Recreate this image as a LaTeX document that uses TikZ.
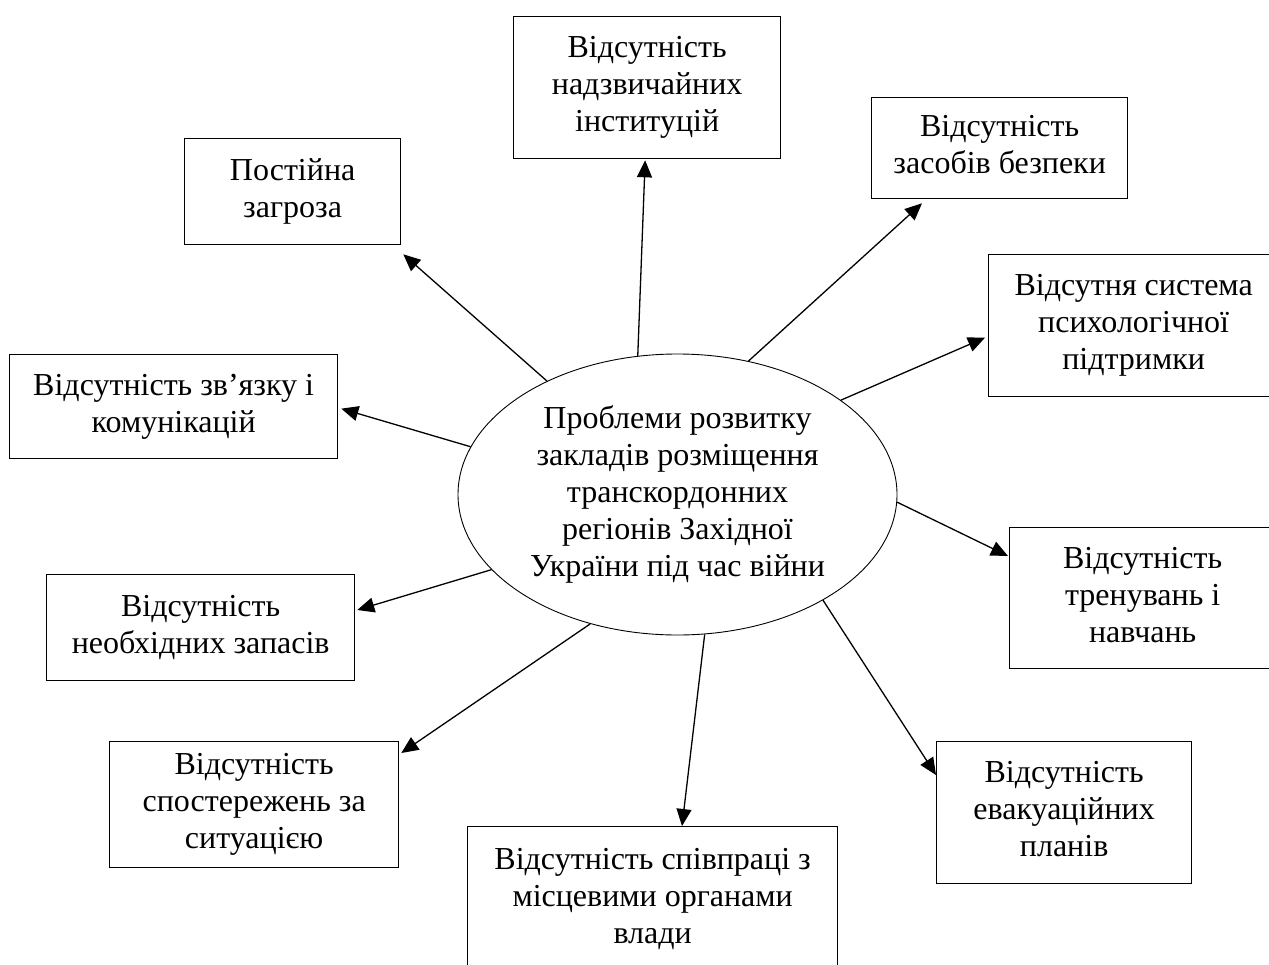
\documentclass[tikz,border=0pt]{standalone}
\usepackage{fontspec}
\setmainfont{Liberation Serif}
\usetikzlibrary{arrows.meta,shapes.geometric,calc}
\begin{document}
\begin{tikzpicture}[x=1pt,y=-1pt,
  lbl/.style={font=\fontsize{32}{37}\selectfont, align=center,
    execute at begin node={\rule{0pt}{0.891em}},
    execute at end node={\rule[-0.216em]{0pt}{0.216em}}},
  box/.style={lbl, draw, line width=1.3pt, rectangle, inner sep=0pt, anchor=north west},
  arr/.style={line width=1.3pt, -{Triangle[length=17pt,width=15pt]}},
  ]
\useasboundingbox (0,0) rectangle (1269,964);
% centre
\node[lbl, ellipse, draw, line width=0.9pt, inner sep=0pt, minimum width=439pt, minimum height=281pt] (ell) at (677.5,494.5)
  {Проблеми розвитку\\закладів розміщення\\транскордонних\\регіонів Західної\\України під час війни};
% boxes
\node[box, minimum width=267pt, minimum height=142pt] (b1) at (513,16) {Відсутність\\надзвичайних\\інституцій};
\node[box, minimum width=216pt, minimum height=106pt] (b2) at (184,138) {Постійна\\загроза};
\node[box, minimum width=256pt, minimum height=101pt] (b3) at (871,97) {Відсутність\\засобів безпеки};
\node[box, minimum width=290pt, minimum height=142pt] (b4) at (988,254) {Відсутня система\\психологічної\\підтримки};
\node[box, minimum width=328pt, minimum height=104pt] (b5) at (9,354) {Відсутність зв’язку і\\комунікацій};
\node[box, minimum width=266pt, minimum height=141pt] (b6) at (1009,527) {Відсутність\\тренувань і\\навчань};
\node[box, minimum width=308pt, minimum height=106pt] (b7) at (46,574) {Відсутність\\необхідних запасів};
\node[box, minimum width=289pt, minimum height=126pt] (b8) at (109,741) {Відсутність\\спостережень за\\ситуацією};
\node[box, minimum width=255pt, minimum height=142pt] (b9) at (936,741) {Відсутність\\евакуаційних\\планів};
\node[box, minimum width=370pt, minimum height=146pt] (b10) at (467,826) {Відсутність співпраці з\\місцевими органами\\влади};
% connectors
\draw[arr] (ell.106.3) -- ($(b1.south)+(-2,1)$);
\draw[arr] (ell.139) -- ($(b2.south east)+(2,9)$);
\draw[arr] (ell.167.2) -- ($(b5.east)+(3,2)$);
\draw[arr] (ell.62.3) -- ($(b3.south west)+(51,4)$);
\draw[arr] (ell.30.4) -- ($(b4.west)+(-3,12)$);
\draw[arr] (ell.-2.7) -- ($(b6.north west)+(-1,29)$);
\draw[arr] (ell.-36.6) -- ($(b9.north west)+(0,34)$);
\draw[arr] (ell.-79.5) -- ($(b10.north west)+(215,0)$);
\draw[arr] (ell.236.2) -- ($(b8.north east)+(2,12)$);
\draw[arr] (ell.202.7) -- ($(b7.north east)+(2,36)$);
\end{tikzpicture}
\end{document}
